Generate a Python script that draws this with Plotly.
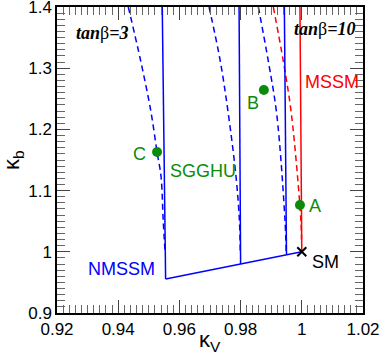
import plotly.graph_objects as go

# ---- data (kappa_V, kappa_b) ----
# NMSSM solid boundaries (vertical-ish lines), from top to the diagonal
nm1_x = [0.9544, 0.9555]; nm1_y = [1.4, 0.9555]
nm2_x = [0.9795, 0.9800]; nm2_y = [1.4, 0.9800]
nm3_x = [0.9943, 0.9950]; nm3_y = [1.4, 0.9950]
# NMSSM bottom edge
nmb_x = [0.9555, 1.0]; nmb_y = [0.9555, 1.0]
# MSSM solid
ms_x = [0.9994, 1.0]; ms_y = [1.4, 1.0]

# dashed curves, blue
d1_x = [0.9433, 0.9473, 0.9506, 0.9527, 0.9540, 0.9547, 0.9553]
d1_y = [1.4, 1.313, 1.2317, 1.163, 1.123, 1.052, 1.00]
d2_x = [0.9697, 0.9733, 0.9760, 0.9785, 0.9796, 0.9799]
d2_y = [1.4, 1.313, 1.225, 1.123, 1.052, 1.00]
d3_x = [0.9858, 0.9890, 0.9918, 0.9945, 0.9949]
d3_y = [1.4, 1.313, 1.225, 1.052, 1.00]
# dashed red (MSSM)
dr_x = [0.9907, 0.9939, 0.9966, 0.9997, 0.9999]
dr_y = [1.4, 1.313, 1.225, 1.052, 1.02]

# benchmark points
pt_names = ["A", "B", "C"]
pt_x = [0.9994, 0.9876, 0.9527]
pt_y = [1.0765, 1.2644, 1.163]
sm_x = [1.0]; sm_y = [1.0]

# ticks
x_ticks = [0.92, 0.94, 0.96, 0.98, 1.00, 1.02]
x_tick_labels = ["0.92", "0.94", "0.96", "0.98", "1", "1.02"]
y_ticks = [0.9, 1.0, 1.1, 1.2, 1.3, 1.4]
y_tick_labels = ["0.9", "1", "1.1", "1.2", "1.3", "1.4"]

BLUE = "#0000ff"
RED = "#ff0000"
GREEN = "#0a8c0a"

fig = go.Figure()

def solid(x, y, c):
    fig.add_trace(go.Scatter(x=x, y=y, mode="lines", line=dict(color=c, width=1.5),
                             showlegend=False, hoverinfo="skip"))

def dashed(x, y, c):
    fig.add_trace(go.Scatter(x=x, y=y, mode="lines", line=dict(color=c, width=1.5, dash="6px,4px", shape="spline"),
                             showlegend=False, hoverinfo="skip"))

for x, y in [(d1_x, d1_y), (d2_x, d2_y), (d3_x, d3_y)]:
    dashed(x, y, BLUE)
dashed(dr_x, dr_y, RED)
for x, y in [(nm1_x, nm1_y), (nm2_x, nm2_y), (nm3_x, nm3_y), (nmb_x, nmb_y)]:
    solid(x, y, BLUE)
solid(ms_x, ms_y, RED)

fig.add_trace(go.Scatter(x=pt_x, y=pt_y, mode="markers",
                         marker=dict(color=GREEN, size=10), showlegend=False, hoverinfo="skip"))
fig.add_trace(go.Scatter(x=sm_x, y=sm_y, mode="markers",
                         marker=dict(color="black", size=9, symbol="x-thin", line=dict(width=2, color="black")),
                         showlegend=False, hoverinfo="skip"))

sans = "Liberation Sans, Arial, sans-serif"
serif = "Liberation Serif, Times New Roman, serif"

def label(x, y, text, color, size=18, family=sans, xanchor="center"):
    fig.add_annotation(x=x, y=y, xref="x", yref="y", text=text, showarrow=False,
                       font=dict(family=family, size=size, color=color), xanchor=xanchor, yanchor="middle")

label(0.98415, 1.2427, "B", GREEN)
label(0.9469, 1.1598, "C", GREEN)
label(0.9562, 1.132, "SGGHU", GREEN, xanchor="left")
label(1.0018, 1.0748, "A", GREEN, xanchor="left")
label(1.0026, 0.9828, "SM", "black", xanchor="left")
label(0.9295, 0.9714, "NMSSM", BLUE, xanchor="left")
label(1.0003, 1.278, "MSSM", RED, xanchor="left")
label(0.9257, 1.3575, "<b><i>tan</i></b>β<b><i>=3</i></b>", "black", size=18, family=serif, xanchor="left")
label(0.9969, 1.3636, "<b><i>tan</i></b>β<b><i>=10</i></b>", "black", size=18, family=serif, xanchor="left")

# axis titles as annotations (paper coords)
fig.add_annotation(x=0.5, y=0, xref="paper", yref="paper", yshift=-12, text="κ<sub>V</sub>",
                   showarrow=False, xanchor="center", yanchor="top",
                   font=dict(family=sans, size=22, color="black"))
fig.add_annotation(x=0, y=0.5, xref="paper", yref="paper", xshift=-44, text="κ<sub>b</sub>",
                   showarrow=False, xanchor="center", yanchor="middle", textangle=-90,
                   font=dict(family=sans, size=22, color="black"))

axis_common = dict(
    showgrid=False, zeroline=False, showline=True, linecolor="black", linewidth=1.5,
    mirror="allticks", ticks="inside", ticklen=13, tickwidth=1, tickcolor="#444",
    tickfont=dict(family=sans, size=17, color="black"), automargin=False,
    ticklabeloverflow="allow",
)
fig.update_xaxes(range=[0.92, 1.02], tickvals=x_ticks, ticktext=x_tick_labels,
                 minor=dict(dtick=0.002, tick0=0.92, ticks="inside", ticklen=8, tickwidth=1, tickcolor="#666"),
                 **axis_common)
fig.update_yaxes(range=[0.9, 1.4], tickvals=y_ticks, ticktext=y_tick_labels,
                 minor=dict(dtick=0.01, tick0=0.9, ticks="inside", ticklen=8, tickwidth=1, tickcolor="#666"),
                 **axis_common)

fig.update_layout(
    width=382, height=359,
    margin=dict(l=57, r=19, t=7, b=46, autoexpand=False),
    plot_bgcolor="white", paper_bgcolor="white",
    showlegend=False,
)

fig.write_html("out.html", config={"displayModeBar": False},
               post_script="document.body.style.margin='0';document.body.style.overflow='hidden';")
